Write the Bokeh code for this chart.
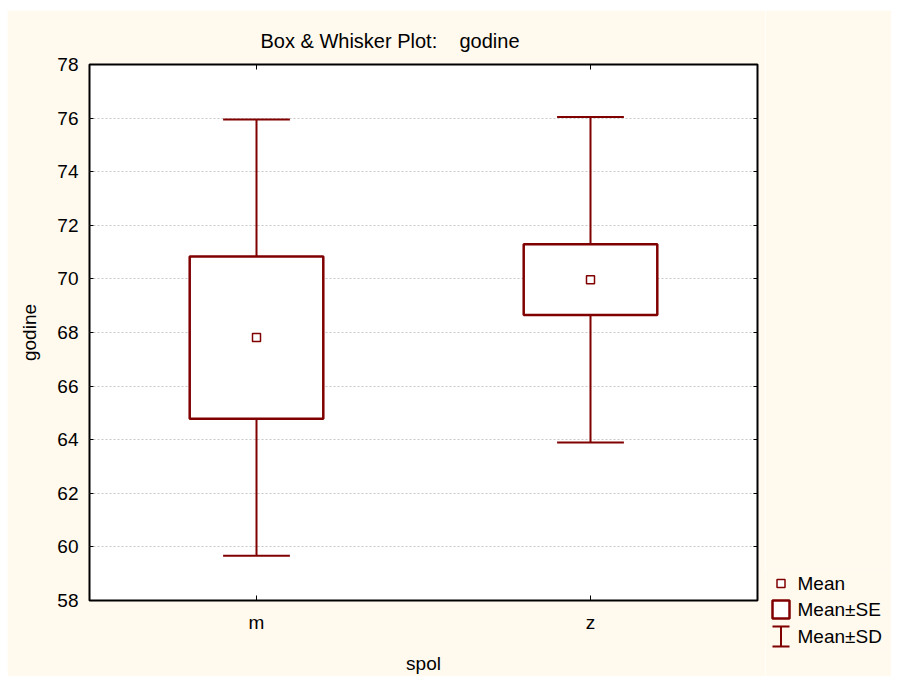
from bokeh.plotting import figure
from bokeh.layouts import row, column
from bokeh.models import (FactorRange, Range1d, FixedTicker, LinearAxis, CategoricalAxis,
                          ColumnDataSource, Label, PolyAnnotation, Spacer)
from bokeh.transform import dodge
from bokeh.embed import file_html
from bokeh.resources import INLINE

# ---- data ----
categories = ["m", "z"]
means = [67.81, 69.97]
se = [3.03, 1.32]
sd = [8.14, 6.07]
y_ticks = [58, 60, 62, 64, 66, 68, 70, 72, 74, 76, 78]
legend_labels = ["Mean", "Mean\u00b1SE", "Mean\u00b1SD"]

MAROON = "#800000"
FONT = "Liberation Sans"
BG = "#FFF9EE"
FS = "19px"

src = ColumnDataSource(dict(
    cat=categories,
    mean=means,
    se_lo=[m - s for m, s in zip(means, se)],
    se_hi=[m + s for m, s in zip(means, se)],
    sd_lo=[m - s for m, s in zip(means, sd)],
    sd_hi=[m + s for m, s in zip(means, sd)],
))

p = figure(width=758, height=666,
           x_range=FactorRange(*categories), y_range=Range1d(y_ticks[0], y_ticks[-1]),
           output_backend="svg", toolbar_location=None,
           min_border_left=82, min_border_right=8, min_border_top=54, min_border_bottom=76,
           background_fill_color="white", border_fill_color=BG,
           outline_line_color="black", outline_line_width=2)
p.frame_align = False

# title
p.title.text = "Box & Whisker Plot:\u00a0\u00a0\u00a0\u00a0godine"
p.title.align = "left"
p.title.offset = 171
p.title.text_font = FONT
p.title.text_font_size = "20px"
p.title.text_font_style = "normal"
p.title.text_color = "black"
p.title.standoff = 26

# bottom axis
xa = p.xaxis[0]
xa.axis_label = "spol"
xa.axis_line_color = None
xa.major_tick_in = 5
xa.major_tick_out = 0
xa.major_tick_line_color = "black"
xa.major_label_standoff = 11
xa.major_label_text_font = FONT
xa.major_label_text_font_size = FS
xa.major_label_text_color = "black"
xa.axis_label_standoff = 17
xa.axis_label_text_font = FONT
xa.axis_label_text_font_size = FS
xa.axis_label_text_font_style = "normal"
xa.axis_label_text_color = "black"

# left axis
ya = p.yaxis[0]
ya.ticker = FixedTicker(ticks=y_ticks)
ya.axis_label = "godine"
ya.axis_line_color = None
ya.major_tick_in = 4
ya.major_tick_out = 0
ya.minor_tick_line_color = None
ya.major_label_standoff = 11
ya.major_label_text_font = FONT
ya.major_label_text_font_size = FS
ya.major_label_text_color = "black"
ya.axis_label_standoff = 14
ya.axis_label_text_font = FONT
ya.axis_label_text_font_size = FS
ya.axis_label_text_font_style = "normal"
ya.axis_label_text_color = "black"

# top and right axes: tick marks only (labels not drawn)
top = CategoricalAxis(axis_line_color=None, major_tick_in=5, major_tick_out=0,
                      major_label_text_font_size="1px", major_label_text_color=None,
                      major_label_standoff=0)
p.add_layout(top, "above")
right = LinearAxis(ticker=FixedTicker(ticks=y_ticks), axis_line_color=None,
                   major_tick_in=4, major_tick_out=0, minor_tick_line_color=None,
                   major_label_text_font_size="1px", major_label_text_color=None,
                   major_label_standoff=0)
p.add_layout(right, "right")

p.xgrid.grid_line_color = None
p.ygrid.grid_line_color = "#C8C8C8"
p.ygrid.grid_line_dash = "2 2"

# whiskers (Mean +- SD)
p.segment(x0="cat", y0="sd_lo", x1="cat", y1="sd_hi", line_color=MAROON, line_width=2, source=src)
p.segment(x0=dodge("cat", -0.1, range=p.x_range), y0="sd_hi",
          x1=dodge("cat", 0.1, range=p.x_range), y1="sd_hi",
          line_color=MAROON, line_width=2, source=src)
p.segment(x0=dodge("cat", -0.1, range=p.x_range), y0="sd_lo",
          x1=dodge("cat", 0.1, range=p.x_range), y1="sd_lo",
          line_color=MAROON, line_width=2, source=src)
# boxes (Mean +- SE)
p.vbar(x="cat", width=0.4, bottom="se_lo", top="se_hi", fill_color="white",
       line_color=MAROON, line_width=2.5, source=src)
# mean
p.scatter(x="cat", y="mean", marker="square", size=8, fill_color="white",
          line_color=MAROON, line_width=1.5, source=src)

# ---- legend panel (separate small figure to the right) ----
lg = figure(width=126, height=666, x_range=Range1d(0, 1), y_range=Range1d(0, 1),
            x_axis_type=None, y_axis_type=None, output_backend="svg", toolbar_location=None,
            min_border_left=0, min_border_right=0, min_border_top=560, min_border_bottom=26,
            background_fill_color=BG, border_fill_color=BG, outline_line_color=None)
lg.frame_align = False
lg.grid.visible = False

lx = 32
ly = [67, 41, 14]
for txt, yy in zip(legend_labels, ly):
    lg.add_layout(Label(x=lx, y=yy, x_units="screen", y_units="screen", text=txt,
                        text_font=FONT, text_font_size=FS, text_color="black",
                        text_align="left", text_baseline="middle"))
ix = 15.5
# mean icon
lg.add_layout(PolyAnnotation(xs=[ix - 4, ix + 4, ix + 4, ix - 4],
                             ys=[ly[0] + 4, ly[0] + 4, ly[0] - 4, ly[0] - 4],
                             xs_units="screen", ys_units="screen",
                             fill_color="white", fill_alpha=1,
                             line_color=MAROON, line_alpha=1, line_width=1.5))
# SE icon
lg.add_layout(PolyAnnotation(xs=[ix - 8.5, ix + 8.5, ix + 8.5, ix - 8.5],
                             ys=[ly[1] + 9, ly[1] + 9, ly[1] - 9, ly[1] - 9],
                             xs_units="screen", ys_units="screen",
                             fill_color="white", fill_alpha=1,
                             line_color=MAROON, line_alpha=1, line_width=2.5))
# SD icon (I-beam)
t, b = ly[2] + 10, ly[2] - 10
lg.add_layout(PolyAnnotation(xs=[ix - 8.5, ix + 8.5, ix, ix, ix + 8.5, ix - 8.5, ix, ix],
                             ys=[t, t, t, b, b, b, b, t],
                             xs_units="screen", ys_units="screen",
                             fill_color=None, fill_alpha=0,
                             line_color=MAROON, line_alpha=1, line_width=2))

layout = column(Spacer(height=10), row(Spacer(width=7), p, lg, spacing=0), spacing=0)

open("out.html", "w").write(file_html(layout, INLINE))
